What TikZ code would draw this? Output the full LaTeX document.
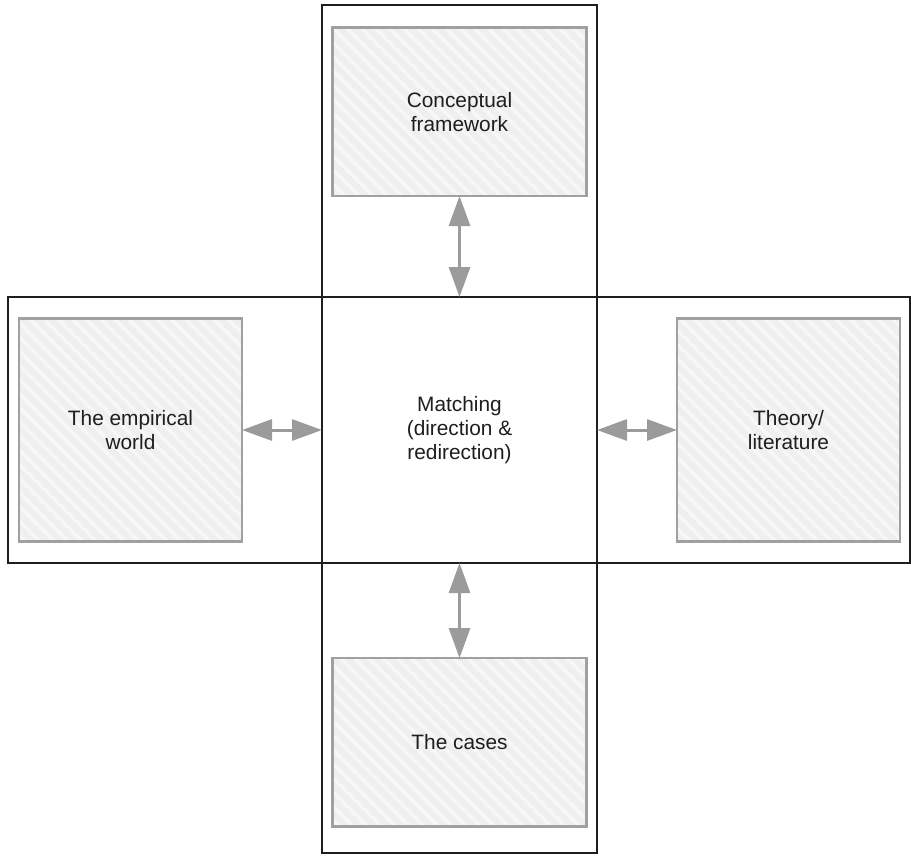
\documentclass[tikz,border=0pt]{standalone}
\usepackage{fontspec}
\setmainfont{Liberation Sans}
\usetikzlibrary{positioning, arrows.meta, patterns.meta}
\definecolor{arrowgray}{HTML}{9B9B9D}
\definecolor{boxgray}{HTML}{A0A0A2}
\definecolor{boxfill}{HTML}{EFEFEF}
\definecolor{stripe}{HTML}{F7F7F7}
\definecolor{framecol}{HTML}{1E1E1E}
\tikzset{
    arrow/.style={draw=arrowgray, line width=1.8pt, {Triangle[length=18pt,width=12.6pt]}-{Triangle[length=18pt,width=12.6pt]}},
    block/.style={shape=rectangle, draw=boxgray, line width=1.5pt, outer sep=0pt,
        preaction={fill=boxfill}, pattern={Lines[angle=-45, distance=6pt, line width=2.2pt]}, pattern color=stripe,
        align=center, text=framecol, font=\fontsize{12.5}{14.4}\selectfont},
    frame/.style={shape=rectangle, draw=framecol, line width=1.3pt, outer sep=0pt, inner sep=0pt}
}

\begin{document}
\begin{tikzpicture}[x=0.6pt, y=-0.6pt]
    % fixed page size (reference pixels)
    \useasboundingbox (0,0) rectangle (911,855);

    % outer frames of the cross
    \node [frame, minimum width=165pt, minimum height=508.8pt]   at (459.5,429) (vframe) {};
    \node [frame, minimum width=541.2pt, minimum height=159.6pt] at (459,430)   (hframe) {};

    % centre
    \node [inner sep=0pt, outer sep=0pt, minimum width=165pt, minimum height=159.6pt,
           align=center, text=framecol, font=\fontsize{12.5}{14.4}\selectfont]
          at (459.5,430) (match) {Matching\\(direction \&\\redirection)};

    % boxes around the centre
    \node [block, minimum width=152.4pt, minimum height=101pt, above=60.6pt of match] (concept) {Conceptual\\framework};
    \node [block, minimum width=133.8pt, minimum height=133.8pt, left=48pt of match]  (empir)   {The empirical\\world};
    \node [block, minimum width=133.8pt, minimum height=133.8pt, right=48pt of match] (theory)  {Theory/\\literature};
    \node [block, minimum width=152.4pt, minimum height=101pt, below=57pt of match]   (cases)   {The cases};

    % draw arrows
    \begin{scope}[arrow]
        \draw (concept) -- (match);
        \draw (empir) -- (match);
        \draw (match) -- (theory);
        \draw (match) -- (cases);
    \end{scope}
\end{tikzpicture}
\end{document}
